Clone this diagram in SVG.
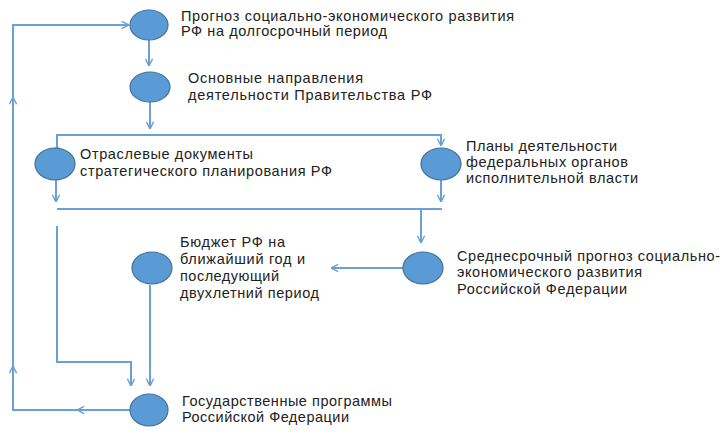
<svg xmlns="http://www.w3.org/2000/svg" width="725" height="438" viewBox="0 0 725 438">
<style>
.n{fill:#5b9bd5;stroke:#41719c;stroke-width:1.2}
.t{font-family:"Liberation Sans",Arial,sans-serif;font-size:14.5px;fill:#222222}
.c{fill:none;stroke:#6a9fd8;stroke-width:2}
</style>
<defs>
<marker id="a" viewBox="0 0 10 10" refX="9.5" refY="5" markerWidth="9" markerHeight="9" markerUnits="userSpaceOnUse" orient="auto">
<path d="M1.5,1 L9.5,5 L1.5,9" fill="none" stroke="#6a9fd8" stroke-width="1.6"/>
</marker>
</defs>
<rect width="725" height="438" fill="#ffffff"/>
<g id="connectors">
<path class="c" d="M149,40 L149,66" marker-end="url(#a)"/>
<path class="c" d="M150,102 L150,129" marker-end="url(#a)"/>
<path class="c" d="M57,146 L57,135 L441,135 L441,146" marker-start="url(#a)" marker-end="url(#a)"/>
<path class="c" d="M56,180 L56,202" marker-end="url(#a)"/>
<path class="c" d="M441,180 L441,202" marker-end="url(#a)"/>
<path class="c" d="M57,209 L442,209"/>
<path class="c" d="M421,209 L421,243" marker-end="url(#a)"/>
<path class="c" d="M403,268 L331,268" marker-end="url(#a)"/>
<path class="c" d="M57,226 L57,362 L131,362 L131,386" marker-end="url(#a)"/>
<path class="c" d="M150,285 L150,386" marker-end="url(#a)"/>
<path class="c" d="M130,410 L77,410" marker-end="url(#a)"/>
<path class="c" d="M78,410 L13,410 L13,366" marker-end="url(#a)"/>
<path class="c" d="M13,367 L13,97" marker-end="url(#a)"/>
<path class="c" d="M13,98 L13,25 L129,25" marker-end="url(#a)"/>
</g>
<g id="n1">
<ellipse class="n" cx="149" cy="25" rx="19" ry="15"/>
<text class="t" x="181" y="21" textLength="333" lengthAdjust="spacing">Прогноз социально-экономического развития</text>
<text class="t" x="181" y="36" textLength="206" lengthAdjust="spacing">РФ на долгосрочный период</text>
</g>
<g id="n2">
<ellipse class="n" cx="150" cy="87" rx="20" ry="15"/>
<text class="t" x="188" y="83" textLength="175" lengthAdjust="spacing">Основные направления</text>
<text class="t" x="188" y="100" textLength="244" lengthAdjust="spacing">деятельности Правительства РФ</text>
</g>
<g id="n3">
<ellipse class="n" cx="55" cy="164" rx="20" ry="16"/>
<text class="t" x="80" y="159" textLength="173" lengthAdjust="spacing">Отраслевые документы</text>
<text class="t" x="80" y="176" textLength="252" lengthAdjust="spacing">стратегического планирования РФ</text>
</g>
<g id="n4">
<ellipse class="n" cx="441" cy="164" rx="20" ry="16"/>
<text class="t" x="466" y="151" textLength="151" lengthAdjust="spacing">Планы деятельности</text>
<text class="t" x="466" y="167" textLength="162" lengthAdjust="spacing">федеральных органов</text>
<text class="t" x="466" y="183" textLength="172" lengthAdjust="spacing">исполнительной власти</text>
</g>
<g id="n5">
<ellipse class="n" cx="423" cy="268" rx="20" ry="16"/>
<text class="t" x="457" y="261" textLength="263" lengthAdjust="spacing">Среднесрочный прогноз социально-</text>
<text class="t" x="457" y="277" textLength="185" lengthAdjust="spacing">экономического развития</text>
<text class="t" x="457" y="294" textLength="170" lengthAdjust="spacing">Российской Федерации</text>
</g>
<g id="n6">
<ellipse class="n" cx="152" cy="268" rx="20" ry="16"/>
<text class="t" x="180" y="247" textLength="105" lengthAdjust="spacing">Бюджет РФ на</text>
<text class="t" x="180" y="264" textLength="125" lengthAdjust="spacing">ближайший год и</text>
<text class="t" x="180" y="281" textLength="99" lengthAdjust="spacing">последующий</text>
<text class="t" x="180" y="298" textLength="139" lengthAdjust="spacing">двухлетний период</text>
</g>
<g id="n7">
<ellipse class="n" cx="149" cy="410" rx="19" ry="16"/>
<text class="t" x="182" y="406" textLength="210" lengthAdjust="spacing">Государственные программы</text>
<text class="t" x="182" y="422" textLength="167" lengthAdjust="spacing">Российской Федерации</text>
</g>
</svg>
